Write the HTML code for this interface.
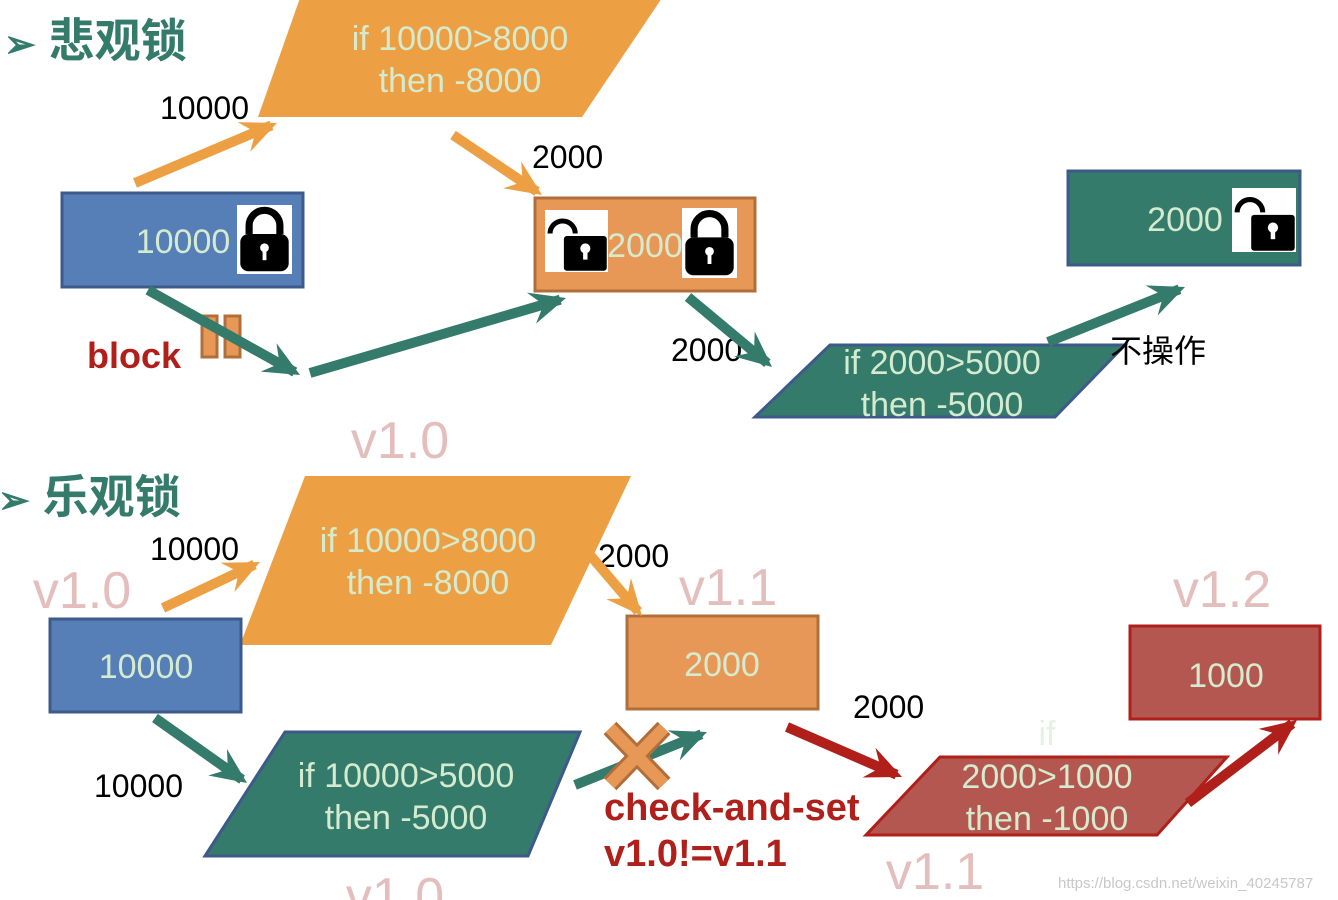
<!DOCTYPE html>
<html><head><meta charset="utf-8"><style>
html,body{margin:0;padding:0;background:#fff;width:1338px;height:900px;overflow:hidden}
svg{display:block}
text{font-family:"Liberation Sans","Noto Sans CJK SC",sans-serif}
.w{fill:#D5EBCF;font-size:34px;text-anchor:middle}
.k{fill:#000;font-size:32px}
.p{fill:#E3BEBC;font-size:52px;text-anchor:middle}
.t{fill:#347B6B;font-size:46px;font-weight:bold}
</style></head><body>
<svg id="s" width="1338" height="900" xmlns="http://www.w3.org/2000/svg">
<!-- top -->
<text x="4" y="57" class="t"><tspan style="font-size:38px">➢</tspan> 悲观锁</text>
<polygon points="300,-2 662,-2 582,117 258,117" fill="#EDA043"/>
<text x="460" y="50" class="w">if 10000&gt;8000</text>
<text x="460" y="92" class="w">then -8000</text>
<text x="160" y="119" class="k">10000</text>
<rect x="62" y="193" width="241" height="94" fill="#567FB8" stroke="#3E5A8A" stroke-width="3"/>
<text x="183" y="253" class="w">10000</text>
<rect x="535" y="198" width="220" height="93" fill="#E89856" stroke="#B06F3A" stroke-width="3"/>
<text x="645" y="257" class="w">2000</text>
<text x="532" y="168" class="k">2000</text>
<rect x="202" y="316" width="15" height="41" fill="#E89856" stroke="#B06F3A" stroke-width="3"/>
<rect x="225" y="316" width="15" height="41" fill="#E89856" stroke="#B06F3A" stroke-width="3"/>
<text x="87" y="368" style="fill:#B01F1A;font-size:36px;font-weight:bold">block</text>
<text x="671" y="361" class="k">2000</text>
<polygon points="755,417 830,345 1125,345 1055,417" fill="#347B6B" stroke="#3E5A8A" stroke-width="3"/>
<text x="942" y="374" class="w">if 2000&gt;5000</text>
<text x="942" y="416" class="w">then -5000</text>
<text x="1110" y="362" class="k">不操作</text>
<rect x="1068" y="171" width="232" height="94" fill="#347B6B" stroke="#3E5A8A" stroke-width="3"/>
<text x="1185" y="231" class="w">2000</text>
<text x="400" y="458" class="p">v1.0</text>
<!-- bottom -->
<text x="-2" y="513" class="t"><tspan style="font-size:38px">➢</tspan> 乐观锁</text>
<polygon points="305,476 631,476 551,645 240,645" fill="#EDA043"/>
<text x="428" y="552" class="w">if 10000&gt;8000</text>
<text x="428" y="594" class="w">then -8000</text>
<text x="150" y="560" class="k">10000</text>
<text x="82" y="608" class="p">v1.0</text>
<rect x="50" y="619" width="191" height="93" fill="#567FB8" stroke="#3E5A8A" stroke-width="3"/>
<text x="146" y="678" class="w">10000</text>
<text x="598" y="567" class="k">2000</text>
<text x="728" y="605" class="p">v1.1</text>
<rect x="627" y="616" width="191" height="93" fill="#E89856" stroke="#B06F3A" stroke-width="3"/>
<text x="722" y="676" class="w">2000</text>
<text x="853" y="718" class="k">2000</text>
<text x="94" y="797" class="k">10000</text>
<polygon points="205,856 285,732 580,732 528,856" fill="#347B6B" stroke="#3E5A8A" stroke-width="3"/>
<text x="406" y="787" class="w">if 10000&gt;5000</text>
<text x="406" y="829" class="w">then -5000</text>
<text x="604" y="820" style="fill:#B01F1A;font-size:38px;font-weight:bold">check-and-set</text>
<text x="604" y="866" style="fill:#B01F1A;font-size:38px;font-weight:bold">v1.0!=v1.1</text>
<polygon points="866,835 940,757 1227,757 1157,835" fill="#B35750" stroke="#B01F1A" stroke-width="3"/>
<text x="1047" y="745" class="w" style="fill:#D5EBCF;opacity:.6">if</text>
<text x="1047" y="788" class="w">2000&gt;1000</text>
<text x="1047" y="830" class="w">then -1000</text>
<rect x="1130" y="626" width="190" height="93" fill="#B35750" stroke="#B01F1A" stroke-width="3"/>
<text x="1226" y="687" class="w">1000</text>
<text x="1222" y="607" class="p">v1.2</text>
<text x="935" y="889" class="p">v1.1</text>
<text x="395" y="914" class="p">v1.0</text>
<text x="1058" y="888" style="fill:#c8c8c8;font-size:15px">https://blog.csdn.net/weixin_40245787</text>
</svg>
<script>
var s=document.getElementById('s'),NS='http://www.w3.org/2000/svg';
function el(n,a){var e=document.createElementNS(NS,n);for(var k in a)e.setAttribute(k,a[k]);s.appendChild(e);return e;}
function arr(x1,y1,x2,y2,c,w,h){w=w||10;h=h||36;var dx=x2-x1,dy=y2-y1,L=Math.hypot(dx,dy),ux=dx/L,uy=dy/L,px=-uy,py=ux;
el('line',{x1:x1,y1:y1,x2:x2-ux*6,y2:y2-uy*6,stroke:c,'stroke-width':w});
var bx=x2-ux*h,by=y2-uy*h;
el('polygon',{points:[x2,y2,bx+px*h*0.45,by+py*h*0.45,x2-ux*h*0.65,y2-uy*h*0.65,bx-px*h*0.45,by-py*h*0.45].join(','),fill:c});}
var O='#EDA043',T='#347B6B',R='#B01F1A';
arr(135,183,277,123,O);arr(453,135,542,195,O);
arr(148,290,300,375,T);arr(310,373,566,298,T);arr(688,297,772,367,T);arr(1048,342,1185,287,T);
arr(163,608,260,562,O);arr(590,555,642,616,O);arr(155,718,247,783,T);arr(575,785,707,732,T);
arr(787,727,902,777,R);arr(1188,803,1297,720,R);
el('path',{d:'M610,728 L664,784 M664,728 L610,784',stroke:'#B06F3A','stroke-width':18});
el('path',{d:'M610,728 L664,784 M664,728 L610,784',stroke:'#E89856','stroke-width':12});
function lock(x,y,w,h,open){el('rect',{x:x,y:y,width:w,height:h,fill:'#fff'});
var cx=x+w/2,bw=w*0.8,by=y+h*0.42;
if(open){el('path',{d:'M'+(x+w*0.08)+','+(y+h*0.38)+' a'+(w*0.2)+','+(w*0.2)+' 0 0 1 '+(w*0.4)+',0',stroke:'#000','stroke-width':w*0.08,fill:'none'});
el('rect',{x:x+w*0.3,y:by,width:w*0.68,height:h*0.56,fill:'#000',rx:3});cx=x+w*0.64;}
else{el('path',{d:'M'+(x+w*0.22)+','+(by)+' v-'+(h*0.12)+' a'+(w*0.28)+','+(w*0.28)+' 0 0 1 '+(w*0.56)+',0 v'+(h*0.12),stroke:'#000','stroke-width':w*0.13,fill:'none'});
el('rect',{x:x+w*0.06,y:by,width:w*0.88,height:h*0.54,fill:'#000',rx:8});}
el('circle',{cx:cx,cy:by+h*0.2,r:w*0.08,fill:'#fff'});el('rect',{x:cx-w*0.035,y:by+h*0.2,width:w*0.07,height:h*0.18,fill:'#fff'});}
lock(237,205,55,69,false);lock(682,208,55,70,false);lock(545,210,63,62,true);lock(1232,188,64,64,true);
</script>
</body></html>
